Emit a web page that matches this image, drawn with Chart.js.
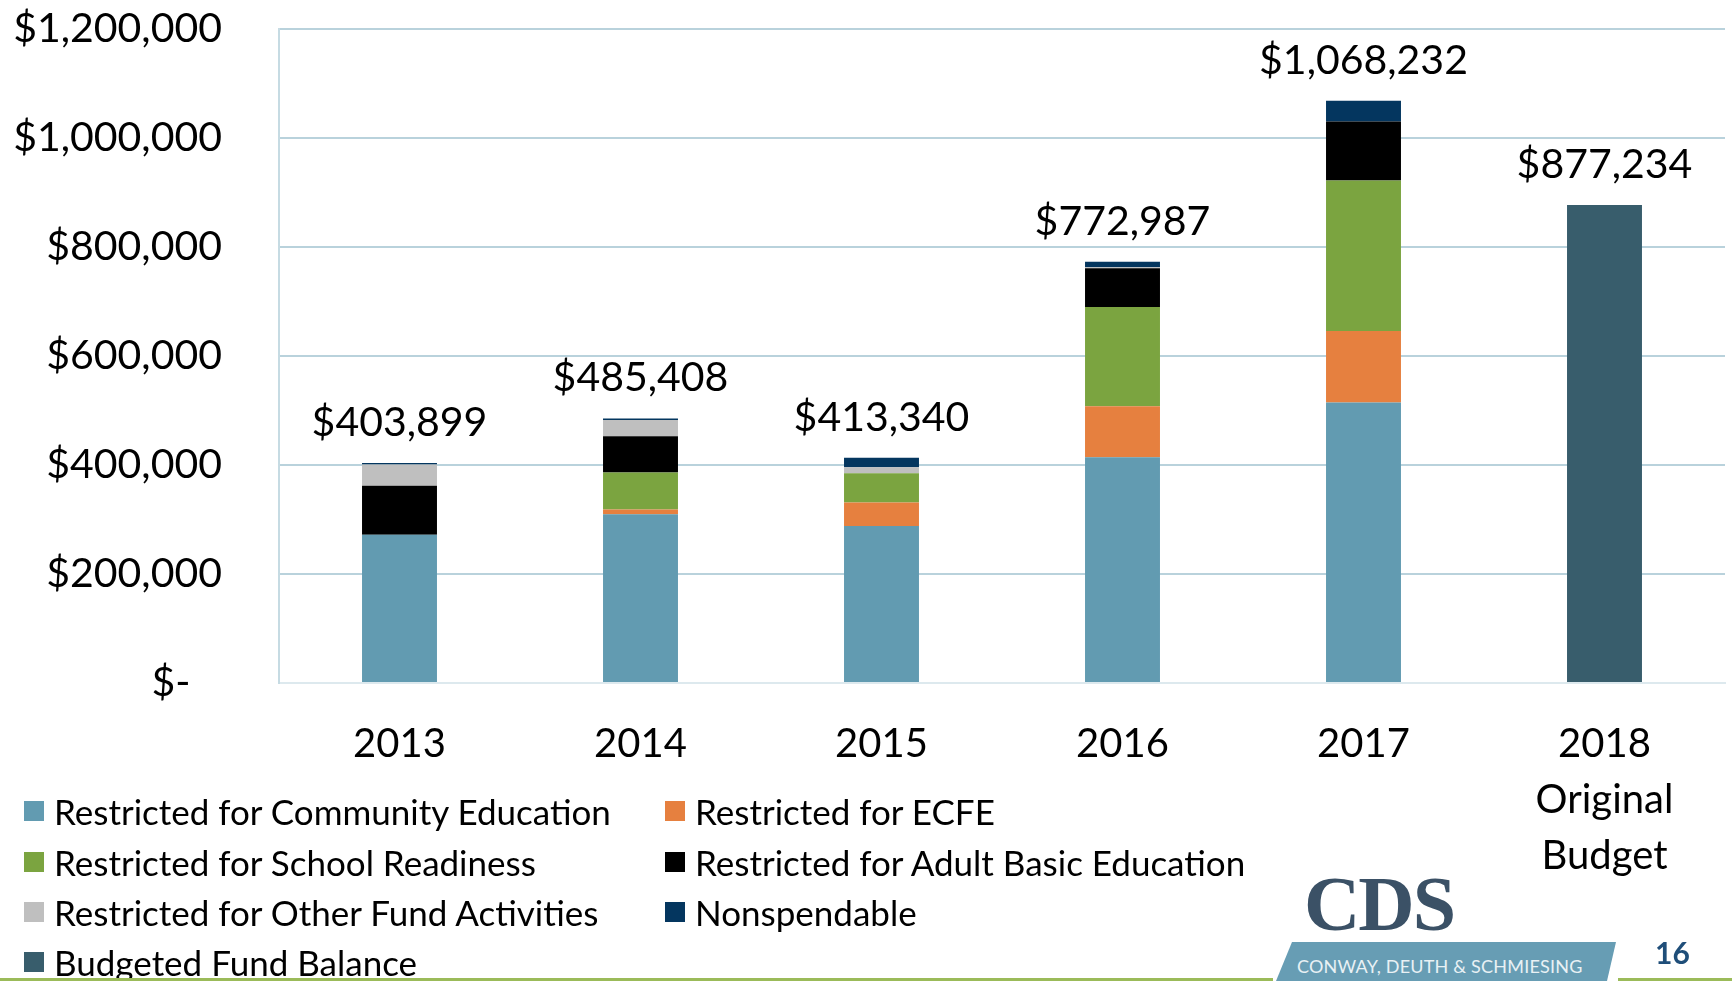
<!DOCTYPE html>
<html>
<head>
<meta charset="utf-8">
<title>Fund balance</title>
<script src="https://cdn.jsdelivr.net/npm/chart.js@4.4.1/dist/chart.umd.min.js"></script>
<style>
  body { margin: 0; background: #fff; overflow: hidden; }
  #wrap { position: relative; width: 1732px; height: 981px; font-family: Lato, sans-serif; }
  #chart { position: absolute; left: 0; top: 0; }
  .item { position: absolute; height: 40px; display: flex; align-items: center; font-size: 35px; color: #000; white-space: nowrap; }
  .item .box { width: 20px; height: 20px; margin-right: 10px; flex: none; }
  .cds { position: absolute; left: 1304px; top: 864px; font-family: "Liberation Serif", serif; font-weight: bold; font-size: 78px; line-height: 80px; color: #3b5166; letter-spacing: -2px; }
  .banner { position: absolute; left: 1276px; top: 942px; width: 340px; height: 39px; background: #679db4;
    clip-path: polygon(16px 0, 340px 0, 331px 100%, 0 100%); }
  .banner span { position: absolute; left: 21px; top: 14px; font-size: 18px; line-height: 20px; color: #e9f1f4; letter-spacing: 0.2px; }
  .page { position: absolute; left: 1655px; top: 934px; font-size: 30px; font-weight: bold; color: #1f4e79; }
  .rule { position: absolute; top: 978px; height: 3px; background: #9bbb59; }
</style>
</head>
<body>
<div id="wrap">
  <canvas id="chart" width="1732" height="981"></canvas>
  <div id="legend"></div>
  <div class="cds">CDS</div>
  <div class="banner"><span>CONWAY, DEUTH &amp; SCHMIESING</span></div>
  <div class="page">16</div>
  <div class="rule" style="left:0;width:1273px"></div>
  <div class="rule" style="left:1618px;width:114px"></div>
</div>
<script>
const years = ["2013", "2014", "2015", "2016", "2017", ["2018", "Original", "Budget"]];

const communityEducation = [272000, 309700, 288300, 414000, 514500, 0];
const ecfe = [0, 8500, 43000, 94000, 131500, 0];
const schoolReadiness = [0, 68000, 53500, 182000, 276000, 0];
const adultBasicEducation = [90000, 66500, 0, 71000, 108500, 0];
const otherFundActivities = [39000, 30000, 11000, 2000, 0, 0];
const nonspendable = [2899, 2708, 17540, 9987, 37732, 0];
const budgetedFundBalance = [0, 0, 0, 0, 0, 877234];

const yMax = 1200000;
const yStep = 200000;

const series = [
  { label: "Restricted for Community Education", data: communityEducation, color: "#629bb1" },
  { label: "Restricted for ECFE", data: ecfe, color: "#e6803f" },
  { label: "Restricted for School Readiness", data: schoolReadiness, color: "#7ba440" },
  { label: "Restricted for Adult Basic Education", data: adultBasicEducation, color: "#000000" },
  { label: "Restricted for Other Fund Activities", data: otherFundActivities, color: "#bfbfbf" },
  { label: "Nonspendable", data: nonspendable, color: "#04365f" },
  { label: "Budgeted Fund Balance", data: budgetedFundBalance, color: "#385d6c" },
];

const money = (v) => "$" + v.toLocaleString("en-US");

// totals written above each stack
const totalLabels = {
  id: "totalLabels",
  afterDatasetsDraw(chart) {
    const { ctx, scales } = chart;
    const meta = chart.getDatasetMeta(0);
    ctx.save();
    ctx.font = "41px Lato";
    ctx.fillStyle = "#000";
    ctx.textAlign = "center";
    ctx.textBaseline = "alphabetic";
    years.forEach((_, i) => {
      const total = series.reduce((s, d) => s + d.data[i], 0);
      const x = meta.data[i].x;
      const y = scales.y.getPixelForValue(total);
      ctx.fillText(money(total), x, y - 27);
    });
    ctx.restore();
  },
};

new Chart(document.getElementById("chart"), {
  type: "bar",
  data: {
    labels: years,
    datasets: series.map((s) => ({
      label: s.label,
      data: s.data,
      backgroundColor: s.color,
      borderWidth: 0,
      barPercentage: 0.311,
      categoryPercentage: 1,
    })),
  },
  options: {
    responsive: false,
    animation: false,
    layout: { padding: { top: 29, right: 7, left: 0, bottom: 0 } },
    plugins: { legend: { display: false }, tooltip: { enabled: false } },
    scales: {
      x: {
        stacked: true,
        grid: { display: false, drawTicks: false },
        border: { color: "#dde9ee", width: 2 },
        ticks: {
          color: "#000",
          font: { family: "Lato", size: 40, lineHeight: 1.4 },
          padding: 33,
          maxRotation: 0,
          autoSkip: false,
        },
        afterFit: (s) => { s.height = 298; },
      },
      y: {
        stacked: true,
        min: 0,
        max: yMax,
        ticks: {
          stepSize: yStep,
          color: "#000",
          font: { family: "Lato", size: 41 },
          padding: 0,
          callback: (v) => (v === 0 ? "$-   " : money(v)),
        },
        grid: {
          color: (c) => (c.tick && c.tick.value === 0 ? "#dde9ee" : "#b9d2dc"),
          lineWidth: 2,
          drawTicks: true,
          tickLength: 57,
          tickColor: "rgba(0,0,0,0)",
        },
        border: { color: "#c6dbe3", width: 2 },
        afterFit: (s) => { s.width = 279; },
      },
    },
  },
  plugins: [totalLabels],
});

// legend: two columns, filled row by row
const legend = document.getElementById("legend");
const rowTops = [791, 842, 892, 942];
const colLefts = [24, 665];
series.forEach((s, i) => {
  const item = document.createElement("div");
  item.className = "item";
  item.style.left = colLefts[i % 2] + "px";
  item.style.top = rowTops[Math.floor(i / 2)] + "px";
  item.innerHTML = `<span class="box" style="background:${s.color}"></span>${s.label}`;
  legend.appendChild(item);
});
</script>
</body>
</html>
